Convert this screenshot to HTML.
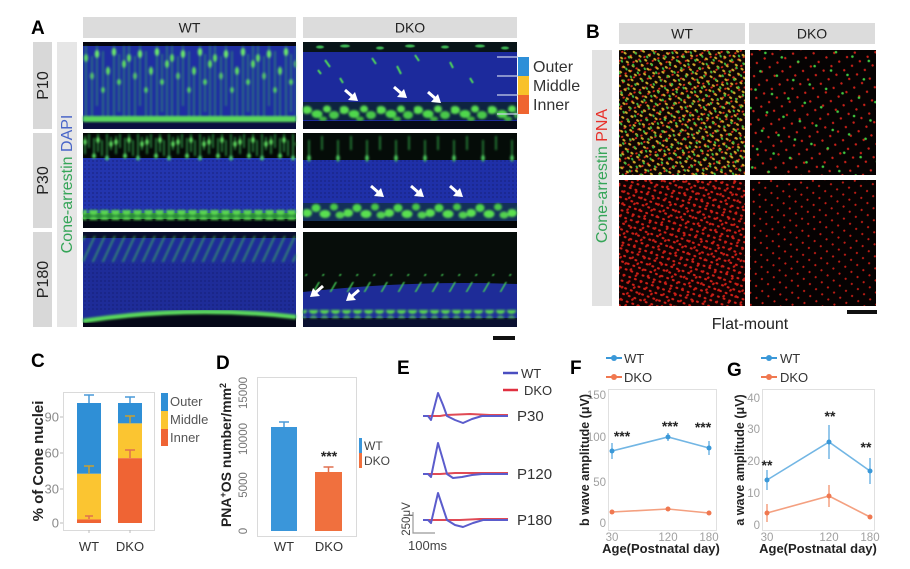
<!DOCTYPE html>
<html><head><meta charset="utf-8"><style>
html,body{margin:0;padding:0;background:#fff;}
svg{display:block;font-family:"Liberation Sans",Arial,sans-serif;}
</style></head><body>
<svg width="910" height="569" viewBox="0 0 910 569" xmlns="http://www.w3.org/2000/svg">
<defs>
 <filter id="b1" x="-5%" y="-20%" width="110%" height="140%"><feGaussianBlur stdDeviation="1"/></filter>
 <filter id="b2" x="-5%" y="-20%" width="110%" height="140%"><feGaussianBlur stdDeviation="0.6"/></filter>
 <pattern id="wt10" x="83" y="46" width="43" height="72" patternUnits="userSpaceOnUse">
  <path d="M3,0 V72 M9,10 V72 M14,0 V60 M20,5 V72 M25,20 V72 M31,0 V72 M36,8 V66 M41,0 V72" stroke="#3ac858" stroke-width="1.4" stroke-opacity="0.55" fill="none"/>
  <ellipse cx="3" cy="12" rx="2" ry="4" fill="#5fe060"/>
  <ellipse cx="9" cy="30" rx="2" ry="3.5" fill="#5fe060" fill-opacity=".8"/>
  <ellipse cx="14" cy="8" rx="2.2" ry="4" fill="#6ae86a"/>
  <ellipse cx="20" cy="44" rx="1.8" ry="3" fill="#55d860"/>
  <ellipse cx="25" cy="25" rx="2" ry="4" fill="#5fe060"/>
  <ellipse cx="31" cy="6" rx="2.2" ry="4" fill="#6ae86a"/>
  <ellipse cx="36" cy="36" rx="2" ry="3" fill="#55d860"/>
  <ellipse cx="41" cy="18" rx="2" ry="4" fill="#5fe060"/>
 </pattern>
 <pattern id="wt30" x="83" y="134" width="31" height="30" patternUnits="userSpaceOnUse">
  <path d="M2,2 V20 M6,0 V14 M11,4 V24 M15,0 V18 M19,6 V22 M24,0 V26 M28,3 V16" stroke="#3cc858" stroke-width="1.5" stroke-opacity="0.75" fill="none"/>
  <ellipse cx="2" cy="8" rx="1.8" ry="3" fill="#5fe060"/>
  <ellipse cx="11" cy="22" rx="2" ry="2.5" fill="#55d860"/>
  <ellipse cx="15" cy="6" rx="1.8" ry="3" fill="#5fe060"/>
  <ellipse cx="24" cy="24" rx="2" ry="2.5" fill="#4cc870"/>
  <ellipse cx="28" cy="10" rx="1.8" ry="3" fill="#5fe060"/>
 </pattern>
 <pattern id="dk30" x="303" y="136" width="29" height="30" patternUnits="userSpaceOnUse">
  <path d="M6,4 V26 M19,0 V14" stroke="#38c050" stroke-width="1.5" stroke-opacity="0.75" fill="none"/>
  <ellipse cx="6" cy="22" rx="1.8" ry="3" fill="#4fd060"/>
 </pattern>
 <pattern id="st4" x="0" y="0" width="10" height="30" patternUnits="userSpaceOnUse" patternTransform="skewX(-25)">
  <rect x="4" y="0" width="1.8" height="30" fill="#45d055" fill-opacity="0.65"/>
 </pattern>
 <pattern id="st5" x="0" y="0" width="17" height="20" patternUnits="userSpaceOnUse" patternTransform="skewX(-30)">
  <rect x="5" y="2" width="2" height="14" fill="#45d055" fill-opacity="0.8"/>
 </pattern>
 <pattern id="blob" x="0" y="0" width="11" height="9" patternUnits="userSpaceOnUse">
  <ellipse cx="5.5" cy="4.5" rx="4.6" ry="3.5" fill="#5ad850"/>
 </pattern>
 <pattern id="dblob" x="303" y="102" width="37" height="20" patternUnits="userSpaceOnUse">
  <ellipse cx="4" cy="8" rx="5" ry="4" fill="#5ae050"/>
  <ellipse cx="14" cy="12" rx="5.5" ry="4" fill="#50d84c"/>
  <ellipse cx="24" cy="7" rx="4" ry="3.5" fill="#5ae050"/>
  <ellipse cx="31" cy="13" rx="5" ry="4" fill="#48c848"/>
  <ellipse cx="20" cy="17" rx="4" ry="2.5" fill="#40b040"/>
 </pattern>
 <pattern id="dblob2" x="303" y="199" width="41" height="22" patternUnits="userSpaceOnUse">
  <ellipse cx="4" cy="14" rx="5" ry="4" fill="#5ae050"/>
  <ellipse cx="13" cy="9" rx="4.5" ry="4" fill="#50d84c"/>
  <ellipse cx="22" cy="15" rx="5.5" ry="4" fill="#5ae050"/>
  <ellipse cx="31" cy="8" rx="4" ry="3.5" fill="#48c848"/>
  <ellipse cx="37" cy="16" rx="4.5" ry="3.5" fill="#52d050"/>
 </pattern>
 <pattern id="tex" width="4" height="4" patternUnits="userSpaceOnUse">
  <circle cx="1" cy="1" r="1" fill="#141c70" fill-opacity="0.5"/>
 </pattern>
 <pattern id="bY" width="7" height="6" patternUnits="userSpaceOnUse" patternTransform="rotate(35)">
  <ellipse cx="3.5" cy="3" rx="1.7" ry="1.1" fill="#c8a828"/>
 </pattern>
 <pattern id="bR" width="6" height="7" patternUnits="userSpaceOnUse" patternTransform="rotate(-25)">
  <ellipse cx="2" cy="2" rx="1.3" ry="1" fill="#d82c1c"/>
 </pattern>
 <pattern id="bG" width="9" height="8" patternUnits="userSpaceOnUse" patternTransform="rotate(60)">
  <ellipse cx="4" cy="4" rx="1.5" ry="1" fill="#3cb840"/>
 </pattern>
 <pattern id="bR2" width="6" height="6" patternUnits="userSpaceOnUse" patternTransform="rotate(20)">
  <ellipse cx="2.5" cy="3" rx="1.5" ry="1.1" fill="#d02018"/>
 </pattern>
 <pattern id="bR3" width="9" height="8" patternUnits="userSpaceOnUse" patternTransform="rotate(-40)">
  <ellipse cx="4" cy="4" rx="1.5" ry="1.1" fill="#c81c14"/>
 </pattern>
 <pattern id="bRs" width="9" height="10" patternUnits="userSpaceOnUse" patternTransform="rotate(-30)">
  <circle cx="3" cy="3" r="1.2" fill="#c82018"/>
 </pattern>
 <pattern id="bRs2" width="8" height="9" patternUnits="userSpaceOnUse" patternTransform="rotate(40)">
  <circle cx="3" cy="3" r="1.1" fill="#c01c14"/>
 </pattern>
 <pattern id="bGs" width="17" height="19" patternUnits="userSpaceOnUse" patternTransform="rotate(15)">
  <circle cx="5" cy="5" r="1.3" fill="#40c840"/>
 </pattern>
 <g id="arDR"><path d="M0,0 L8,7" stroke="#fff" stroke-width="3"/><polygon points="13,11 3,10 10,2" fill="#fff"/></g>
 <g id="arDL"><path d="M13,0 L5,7" stroke="#fff" stroke-width="3"/><polygon points="0,11 3,2 10,10" fill="#fff"/></g>
</defs>
<rect width="910" height="569" fill="#fff"/>

<!-- ============ PANEL A ============ -->
<text x="31" y="34" font-size="19" font-weight="bold">A</text>
<rect x="83" y="17" width="213" height="21" fill="#dcdcdc"/>
<text x="189.5" y="32.5" font-size="14" text-anchor="middle" fill="#222">WT</text>
<rect x="303" y="17" width="214" height="21" fill="#dcdcdc"/>
<text x="410" y="32.5" font-size="14" text-anchor="middle" fill="#222">DKO</text>

<rect x="33" y="42" width="19" height="87" fill="#d8d8d8"/>
<text transform="translate(48,85.5) rotate(-90)" font-size="16" text-anchor="middle" fill="#222">P10</text>
<rect x="33" y="133" width="19" height="95" fill="#d8d8d8"/>
<text transform="translate(48,180.5) rotate(-90)" font-size="16" text-anchor="middle" fill="#222">P30</text>
<rect x="33" y="232" width="19" height="95" fill="#d8d8d8"/>
<text transform="translate(48,279.5) rotate(-90)" font-size="16" text-anchor="middle" fill="#222">P180</text>
<rect x="57" y="42" width="20" height="285" fill="#e6e6e6"/>
<text transform="translate(72,184) rotate(-90)" font-size="16" text-anchor="middle"><tspan fill="#35a558">Cone-arrestin</tspan> <tspan fill="#4a66c8">DAPI</tspan></text>

<!-- WT P10 -->
<rect x="83" y="42" width="213" height="87" fill="#1f2ea2"/>
<rect x="83" y="42" width="213" height="4" fill="#050510"/>
<rect x="83" y="46" width="213" height="72" fill="url(#wt10)" filter="url(#b1)"/>
<rect x="83" y="121" width="213" height="8" fill="#0b1040"/>
<rect x="83" y="116" width="213" height="6" fill="#5ad85a" filter="url(#b1)"/>

<!-- DKO P10 -->
<rect x="303" y="42" width="214" height="87" fill="#1c2a9c"/>
<rect x="303" y="42" width="214" height="10" fill="#081418"/>
<g fill="#3fb855" filter="url(#b2)">
 <ellipse cx="320" cy="47" rx="4" ry="1.5"/><ellipse cx="345" cy="46" rx="5" ry="1.5"/><ellipse cx="380" cy="48" rx="4" ry="1.5"/>
 <ellipse cx="410" cy="46" rx="5" ry="1.5"/><ellipse cx="445" cy="47" rx="4" ry="1.5"/><ellipse cx="480" cy="46" rx="5" ry="1.5"/><ellipse cx="505" cy="48" rx="4" ry="1.5"/>
</g>
<g stroke="#4fd65a" stroke-width="2" filter="url(#b2)">
 <path d="M325,60 l5,7 M372,58 l4,6 M397,66 l4,8 M450,62 l3,6 M340,78 l3,5 M470,78 l3,5 M318,70 l3,4 M415,55 l4,6"/>
</g>
<rect x="303" y="102" width="214" height="18" fill="#0e2440"/>
<rect x="303" y="102" width="214" height="20" fill="url(#dblob)" filter="url(#b1)"/>
<rect x="303" y="121" width="214" height="8" fill="#060a18"/>
<use href="#arDR" x="345" y="90"/>
<use href="#arDR" x="394" y="87"/>
<use href="#arDR" x="428" y="92"/>
<g stroke="#c8d0e8" stroke-width="1.2">
 <line x1="497" y1="57" x2="518" y2="57"/><line x1="497" y1="76" x2="518" y2="76"/>
 <line x1="497" y1="95" x2="518" y2="95"/><line x1="497" y1="114" x2="518" y2="114"/>
</g>
<rect x="518" y="57" width="11" height="19" fill="#2e8fd8"/>
<rect x="518" y="76" width="11" height="19" fill="#f8c12a"/>
<rect x="518" y="95" width="11" height="19" fill="#ef6530"/>
<text x="533" y="72" font-size="16" fill="#333">Outer</text>
<text x="533" y="91" font-size="16" fill="#333">Middle</text>
<text x="533" y="110" font-size="16" fill="#333">Inner</text>

<!-- WT P30 -->
<rect x="83" y="133" width="213" height="95" fill="#2335ae"/>
<rect x="83" y="157" width="213" height="54" fill="url(#tex)"/>
<rect x="83" y="133" width="213" height="25" fill="#040806"/>
<rect x="83" y="134" width="213" height="30" fill="url(#wt30)" filter="url(#b1)"/>
<rect x="83" y="219" width="213" height="9" fill="#030510"/>
<rect x="83" y="213" width="213" height="6" fill="#2a8a3a"/>
<rect x="83" y="210" width="213" height="10" fill="url(#blob)" filter="url(#b1)"/>

<!-- DKO P30 -->
<rect x="303" y="133" width="214" height="95" fill="#1f30a8"/>
<rect x="303" y="160" width="214" height="40" fill="url(#tex)"/>
<rect x="303" y="133" width="214" height="27" fill="#050c08"/>
<rect x="303" y="136" width="214" height="30" fill="url(#dk30)" filter="url(#b1)"/>
<rect x="303" y="203" width="214" height="18" fill="#143058"/>
<rect x="303" y="199" width="214" height="22" fill="url(#dblob2)" filter="url(#b1)"/>
<rect x="303" y="221" width="214" height="7" fill="#040608"/>
<use href="#arDR" x="371" y="186"/>
<use href="#arDR" x="411" y="186"/>
<use href="#arDR" x="450" y="186"/>

<!-- WT P180 -->
<rect x="83" y="232" width="213" height="95" fill="#1e2c98"/>
<rect x="83" y="262" width="213" height="50" fill="url(#tex)"/>
<rect x="83" y="232" width="213" height="6" fill="#0a1030"/>
<rect x="83" y="236" width="213" height="26" fill="url(#st4)" filter="url(#b1)"/>
<path d="M83,327 L83,322 Q190,306 296,318 L296,327 Z" fill="#060818"/>
<path d="M83,321 Q190,305 296,317" stroke="#5ad85a" stroke-width="4.5" fill="none" filter="url(#b1)"/>

<!-- DKO P180 -->
<rect x="303" y="232" width="214" height="95" fill="#1e2c98"/>
<path d="M303,292 Q410,280 517,284 L517,232 L303,232 Z" fill="#070d0a"/>
<rect x="303" y="274" width="214" height="18" fill="url(#st5)" filter="url(#b2)"/>
<rect x="303" y="318" width="214" height="9" fill="#0a1030"/>
<rect x="303" y="310" width="214" height="8" fill="url(#blob)" filter="url(#b1)"/>
<use href="#arDL" x="310" y="286"/>
<use href="#arDL" x="346" y="290"/>
<rect x="493" y="336" width="22" height="4" fill="#111"/>

<!-- ============ PANEL B ============ -->
<text x="586" y="38" font-size="19" font-weight="bold">B</text>
<rect x="619" y="23" width="126" height="21" fill="#dcdcdc"/>
<text x="682" y="38.5" font-size="14" text-anchor="middle" fill="#222">WT</text>
<rect x="749" y="23" width="126" height="21" fill="#dcdcdc"/>
<text x="812" y="38.5" font-size="14" text-anchor="middle" fill="#222">DKO</text>
<rect x="592" y="50" width="20" height="256" fill="#e2e2e2"/>
<text transform="translate(607,176) rotate(-90)" font-size="16" text-anchor="middle"><tspan fill="#35a558">Cone-arrestin</tspan> <tspan fill="#e8302a">PNA</tspan></text>

<rect x="619" y="50" width="126" height="125" fill="#0e0503"/>
<rect x="619" y="50" width="126" height="125" fill="url(#bR)"/>
<rect x="619" y="50" width="126" height="125" fill="url(#bY)"/>
<rect x="619" y="50" width="126" height="125" fill="url(#bG)"/>
<rect x="619" y="180" width="126" height="126" fill="#100202"/>
<rect x="619" y="180" width="126" height="126" fill="url(#bR2)"/>
<rect x="619" y="180" width="126" height="126" fill="url(#bR3)"/>
<rect x="750" y="50" width="126" height="125" fill="#060303"/>
<rect x="750" y="50" width="126" height="125" fill="url(#bRs)"/>
<rect x="750" y="50" width="126" height="125" fill="url(#bGs)"/>
<rect x="750" y="180" width="126" height="126" fill="#060202"/>
<rect x="750" y="180" width="126" height="126" fill="url(#bRs2)"/>
<rect x="847" y="310" width="30" height="4" fill="#111"/>
<text x="750" y="329" font-size="16" text-anchor="middle" fill="#222">Flat-mount</text>

<!-- ============ PANEL C ============ -->
<text x="31" y="367" font-size="19" font-weight="bold">C</text>
<rect x="63.5" y="392.5" width="91" height="138" fill="none" stroke="#dadada"/>
<g font-size="13" fill="#8a8a8a" text-anchor="end">
 <text x="59" y="421.5">90</text><text x="59" y="457.5">60</text><text x="59" y="493.5">30</text><text x="59" y="527.5">0</text>
</g>
<g stroke="#bbb"><line x1="60" y1="417" x2="63" y2="417"/><line x1="60" y1="453" x2="63" y2="453"/><line x1="60" y1="489" x2="63" y2="489"/><line x1="60" y1="523" x2="63" y2="523"/>
<line x1="89" y1="530" x2="89" y2="533"/><line x1="130" y1="530" x2="130" y2="533"/></g>
<rect x="77" y="403" width="24" height="70.8" fill="#2f8fd6"/>
<rect x="77" y="473.8" width="24" height="45.6" fill="#fbc531"/>
<rect x="77" y="519.4" width="24" height="3.6" fill="#ef6434"/>
<rect x="118" y="403" width="24" height="20.4" fill="#2f8fd6"/>
<rect x="118" y="423.4" width="24" height="34.8" fill="#fbc531"/>
<rect x="118" y="458.2" width="24" height="64.8" fill="#ef6434"/>
<g stroke-width="1.5" fill="none">
 <path d="M89,403 V395 M84,395 H94" stroke="#4a9ad8"/>
 <path d="M89,474 V466 M84,466 H94" stroke="#c9a030"/>
 <path d="M89,519 V516 M85,516 H93" stroke="#e07050"/>
 <path d="M130,403 V397 M125,397 H135" stroke="#4a9ad8"/>
 <path d="M130,423 V416 M125,416 H135" stroke="#c9a030"/>
 <path d="M130,458 V450 M125,450 H135" stroke="#e07050"/>
</g>
<text transform="translate(43,461) rotate(-90)" font-size="15" font-weight="bold" text-anchor="middle" fill="#222">% of Cone nuclei</text>
<text x="89" y="551" font-size="13" text-anchor="middle" fill="#333">WT</text>
<text x="130" y="551" font-size="13" text-anchor="middle" fill="#333">DKO</text>
<rect x="161" y="393" width="7" height="18" fill="#2f8fd6"/>
<rect x="161" y="411" width="7" height="18" fill="#fbc531"/>
<rect x="161" y="429" width="7" height="17" fill="#ef6434"/>
<g font-size="13" fill="#555"><text x="170" y="406">Outer</text><text x="170" y="424">Middle</text><text x="170" y="442">Inner</text></g>

<!-- ============ PANEL D ============ -->
<text x="216" y="369" font-size="19" font-weight="bold">D</text>
<rect x="257.5" y="377.5" width="99" height="159" fill="none" stroke="#dadada"/>
<g font-size="11.5" fill="#777" text-anchor="middle">
 <text transform="translate(247,531) rotate(-90)">0</text>
 <text transform="translate(247,485) rotate(-90)">5000</text>
 <text transform="translate(247,439) rotate(-90)">10000</text>
 <text transform="translate(247,393) rotate(-90)">15000</text>
</g>
<text transform="translate(231,455) rotate(-90)" font-size="14" font-weight="bold" text-anchor="middle" fill="#222">PNA<tspan font-size="9" dy="-5">+</tspan><tspan dy="5">OS number/mm</tspan><tspan font-size="9" dy="-5">2</tspan></text>
<rect x="271" y="427" width="26" height="104" fill="#3a96da"/>
<rect x="315" y="472" width="27" height="59" fill="#f0703e"/>
<path d="M284,427 V422 M279,422 H289" stroke="#4a9ad8" stroke-width="1.5"/>
<path d="M328.5,472 V467 M323.5,467 H333.5" stroke="#e07050" stroke-width="1.5"/>
<text x="329" y="461" font-size="14" font-weight="bold" text-anchor="middle" fill="#222">***</text>
<rect x="359" y="438" width="3" height="15" fill="#3a96da"/>
<rect x="359" y="453" width="3" height="15" fill="#f0703e"/>
<text x="364" y="450" font-size="12" fill="#444">WT</text>
<text x="364" y="465" font-size="12" fill="#444">DKO</text>
<text x="284" y="551" font-size="13" text-anchor="middle" fill="#333">WT</text>
<text x="329" y="551" font-size="13" text-anchor="middle" fill="#333">DKO</text>

<!-- ============ PANEL E ============ -->
<text x="397" y="374" font-size="19" font-weight="bold">E</text>
<line x1="503" y1="373" x2="518" y2="373" stroke="#4a4ec0" stroke-width="2.5"/>
<line x1="503" y1="390" x2="518" y2="390" stroke="#e03040" stroke-width="2.5"/>
<text x="521" y="378" font-size="13" fill="#333">WT</text>
<text x="524" y="395" font-size="13" fill="#333">DKO</text>
<g fill="none" stroke-width="2" stroke-linejoin="round">
 <path d="M423,416 H440 L446,415 L470,414 L490,415 H508" stroke="#e04a55"/>
 <path d="M423,416 L428,416 L431,420 L438,393 L443,405 L447,416 L455,420 L463,423 L472,419 L482,416 H508" stroke="#5b5ccc"/>
 <path d="M423,474 H440 L455,473 L480,473 H508" stroke="#e04a55"/>
 <path d="M423,474 L428,474 L431,477 L438,443 L443,460 L447,474 L453,478 L462,477 L472,475 L482,474 H508" stroke="#5b5ccc"/>
 <path d="M423,520 H460 L480,519 H508" stroke="#e04a55"/>
 <path d="M423,520 L428,520 L431,523 L438,493 L443,508 L447,520 L455,525 L463,527 L473,523 L483,520 H508" stroke="#5b5ccc"/>
</g>
<g font-size="15" fill="#333"><text x="517" y="421">P30</text><text x="517" y="479">P120</text><text x="517" y="525">P180</text></g>
<path d="M413,512 V533 H435" stroke="#999" stroke-width="1.2" fill="none"/>
<text transform="translate(410,519) rotate(-90)" font-size="11.5" text-anchor="middle" fill="#444">250μV</text>
<text x="408" y="550" font-size="13" fill="#444">100ms</text>

<!-- ============ PANEL F ============ -->
<text x="570" y="374" font-size="19" font-weight="bold">F</text>
<line x1="606" y1="358" x2="622" y2="358" stroke="#3a98d8" stroke-width="2"/><circle cx="614" cy="358" r="3" fill="#3a98d8"/>
<line x1="606" y1="377" x2="622" y2="377" stroke="#f07850" stroke-width="2"/><circle cx="614" cy="377" r="3" fill="#f07850"/>
<text x="624" y="363" font-size="13" fill="#333">WT</text>
<text x="624" y="382" font-size="13" fill="#333">DKO</text>
<rect x="608.5" y="389.5" width="108" height="141" fill="none" stroke="#e0e0e0"/>
<g font-size="11.5" fill="#a0a0a0" text-anchor="end">
 <text x="606" y="399">150</text><text x="606" y="441">100</text><text x="606" y="486">50</text><text x="606" y="527">0</text>
</g>
<g font-size="11.5" fill="#a0a0a0" text-anchor="middle">
 <text x="612" y="541">30</text><text x="668" y="541">120</text><text x="709" y="541">180</text>
</g>
<polyline points="612,451 668,437 709,448" fill="none" stroke="#72b6e4" stroke-width="1.6"/>
<g stroke="#72b6e4" stroke-width="1.5"><line x1="612" y1="443" x2="612" y2="459"/><line x1="668" y1="433" x2="668" y2="441"/><line x1="709" y1="441" x2="709" y2="455"/></g>
<g fill="#3a98d8"><circle cx="612" cy="451" r="2.5"/><circle cx="668" cy="437" r="2.5"/><circle cx="709" cy="448" r="2.5"/></g>
<polyline points="612,512 668,509 709,513" fill="none" stroke="#f4a080" stroke-width="1.6"/>
<g fill="#f07850"><circle cx="612" cy="512" r="2.5"/><circle cx="668" cy="509" r="2.5"/><circle cx="709" cy="513" r="2.5"/></g>
<g font-size="14" font-weight="bold" fill="#222" text-anchor="middle">
 <text x="622" y="441">***</text><text x="670" y="431">***</text><text x="703" y="432">***</text>
</g>
<text x="661" y="553" font-size="13" font-weight="bold" text-anchor="middle" fill="#222">Age(Postnatal day)</text>
<text transform="translate(589,460) rotate(-90)" font-size="12.5" font-weight="bold" text-anchor="middle" fill="#222">b wave amplitude (μV)</text>

<!-- ============ PANEL G ============ -->
<text x="727" y="376" font-size="19" font-weight="bold">G</text>
<line x1="761" y1="358" x2="777" y2="358" stroke="#3a98d8" stroke-width="2"/><circle cx="769" cy="358" r="3" fill="#3a98d8"/>
<line x1="761" y1="377" x2="777" y2="377" stroke="#f07850" stroke-width="2"/><circle cx="769" cy="377" r="3" fill="#f07850"/>
<text x="780" y="363" font-size="13" fill="#333">WT</text>
<text x="780" y="382" font-size="13" fill="#333">DKO</text>
<rect x="762.5" y="389.5" width="112" height="141" fill="none" stroke="#e0e0e0"/>
<g font-size="11.5" fill="#a0a0a0" text-anchor="end">
 <text x="760" y="402">40</text><text x="760" y="433">30</text><text x="760" y="465">20</text><text x="760" y="497">10</text><text x="760" y="529">0</text>
</g>
<g font-size="11.5" fill="#a0a0a0" text-anchor="middle">
 <text x="767" y="541">30</text><text x="829" y="541">120</text><text x="870" y="541">180</text>
</g>
<polyline points="767,480 829,442 870,471" fill="none" stroke="#72b6e4" stroke-width="1.6"/>
<g stroke="#72b6e4" stroke-width="1.5"><line x1="767" y1="470" x2="767" y2="490"/><line x1="829" y1="425" x2="829" y2="459"/><line x1="870" y1="458" x2="870" y2="484"/></g>
<g fill="#3a98d8"><circle cx="767" cy="480" r="2.5"/><circle cx="829" cy="442" r="2.5"/><circle cx="870" cy="471" r="2.5"/></g>
<polyline points="767,513 829,496 870,517" fill="none" stroke="#f4a080" stroke-width="1.6"/>
<g stroke="#f4a080" stroke-width="1.5"><line x1="767" y1="504" x2="767" y2="522"/><line x1="829" y1="485" x2="829" y2="507"/></g>
<g fill="#f07850"><circle cx="767" cy="513" r="2.5"/><circle cx="829" cy="496" r="2.5"/><circle cx="870" cy="517" r="2.5"/></g>
<g font-size="14" font-weight="bold" fill="#222" text-anchor="middle">
 <text x="767" y="470">**</text><text x="830" y="421">**</text><text x="866" y="452">**</text>
</g>
<text x="818" y="553" font-size="13" font-weight="bold" text-anchor="middle" fill="#222">Age(Postnatal day)</text>
<text transform="translate(744,460) rotate(-90)" font-size="12.5" font-weight="bold" text-anchor="middle" fill="#222">a wave amplitude (μV)</text>
</svg>
</body></html>
